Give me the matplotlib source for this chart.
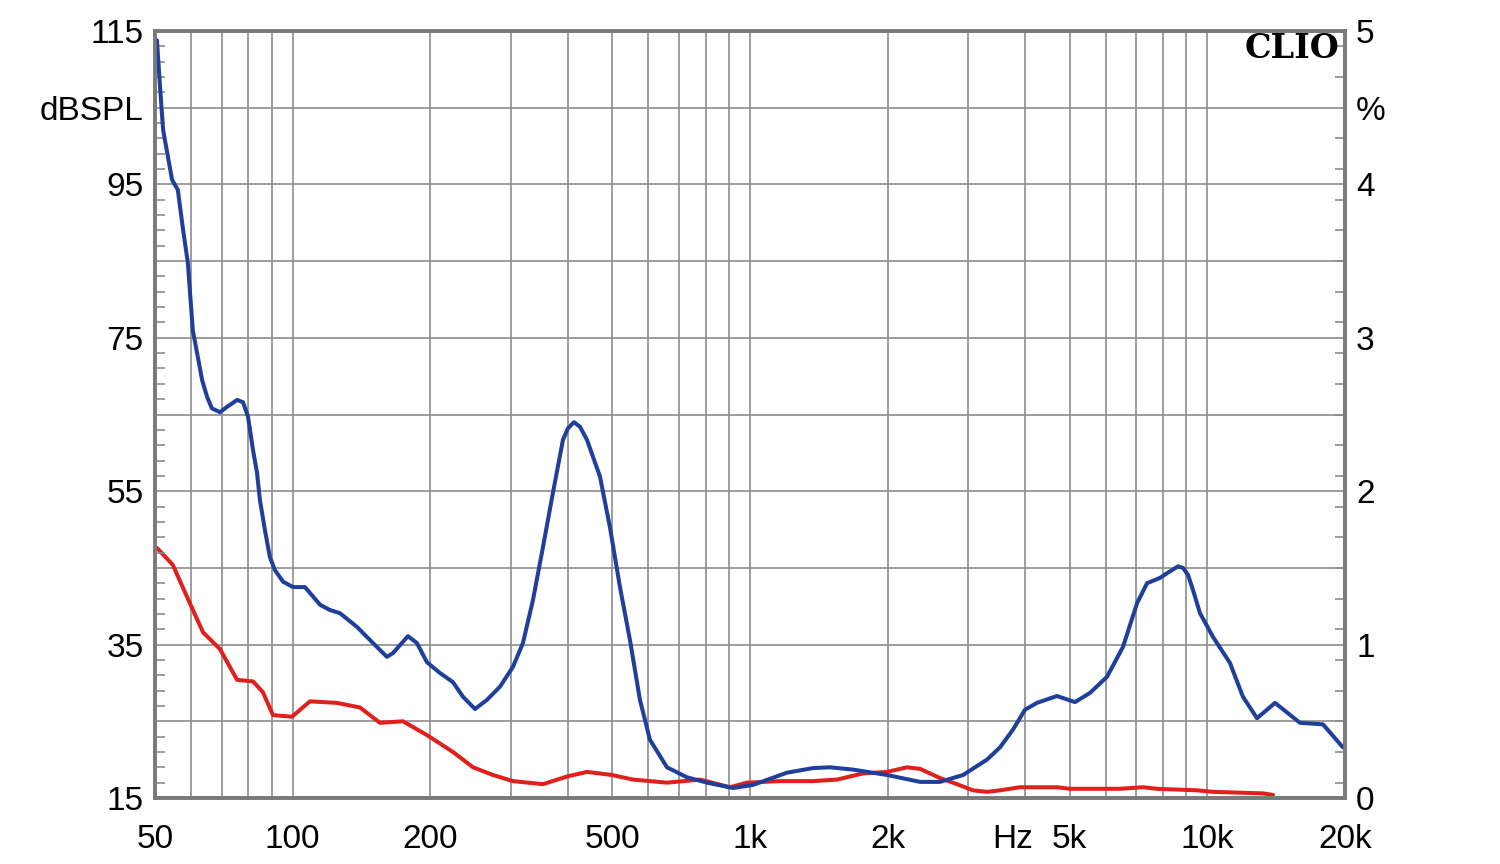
import numpy as np
import matplotlib
matplotlib.use("Agg")
import matplotlib.pyplot as plt
from matplotlib.ticker import FixedLocator, NullFormatter, FixedFormatter

# ---- data ----
spl_freq = [50.5, 51.3, 52.1, 54.5, 56.1, 57.6, 59.0, 60.5, 63.4, 65.0, 66.6, 69.4, 71.9,
            75.6, 77.9, 79.9, 81.9, 83.6, 84.8, 87.0, 89.2, 91.5, 95.3, 100.2, 106.4,
            114.8, 120.7, 126.9, 138.3, 149.9, 160.8, 165.8,
            178.7, 187.0, 196.7, 210.0, 224.2, 235.8, 250.5, 266.1, 284.0, 303.3, 318.9,
            335.4, 352.7, 370.9, 390.1, 400.0, 412.3, 425.0, 440.2, 453.7, 470.0, 494.2,
            519.8, 546.6, 574.8, 604.4, 658.6, 728.4, 805.5, 918.0, 1015, 1205, 1374, 1496,
            1680, 1994, 2355, 2604, 2925, 3299, 3522, 3759, 3993, 4242, 4693, 5138, 5541,
            6037, 6543, 7023, 7386, 7884, 8166, 8630, 8851, 9076, 9310, 9641, 10294, 11214,
            11969, 12849, 14065, 15954, 17912, 19804]
spl_db = [113.8, 107.7, 102.1, 95.6, 94.3, 89.1, 84.8, 76.0, 69.5, 67.3, 65.8, 65.3, 66.0,
          66.9, 66.6, 64.7, 60.4, 57.4, 53.9, 49.9, 46.4, 44.7, 43.2, 42.5, 42.5,
          40.2, 39.5, 39.1, 37.3, 35.2, 33.4, 33.9,
          36.1, 35.2, 32.7, 31.3, 30.1, 28.2, 26.6, 27.8, 29.5, 32.1, 35.2,
          40.8, 47.7, 54.8, 61.7, 63.2, 64.0, 63.4, 61.7, 59.5, 56.9, 50.3,
          42.5, 35.6, 27.8, 22.6, 19.0, 17.7, 17.0, 16.3, 16.7, 18.3, 18.9, 19.0,
          18.7, 18.0, 17.1, 17.1, 18.0, 20.0, 21.6, 23.9, 26.5, 27.4, 28.3, 27.5, 28.7,
          30.8, 34.7, 40.4, 43.0, 43.7, 44.3, 45.2, 45.0, 44.1, 42.1, 39.1, 36.0, 32.6,
          28.2, 25.4, 27.4, 24.8, 24.6, 21.6]

thd_freq = [50.5, 54.7, 59.6, 63.7, 69.4, 75.6, 81.9, 86.1, 90.6, 99.7, 109.1, 125.0, 140.4,
            155.2, 174.3, 196.7, 224.2, 248.0, 274.2, 303.3, 352.7, 398.0, 440.2, 499.2,
            554.9, 658.6, 777.6, 904.3, 985.4, 1163, 1374, 1550, 1767, 1994, 2205, 2355,
            2604, 2837, 3074, 3299, 3522, 3894, 4693, 5010, 6446, 7238, 7765, 9496, 10294,
            13243, 13923]
thd_pct = [1.63, 1.52, 1.27, 1.08, 0.97, 0.77, 0.76, 0.69, 0.54, 0.53, 0.63, 0.62, 0.59,
           0.49, 0.50, 0.41, 0.30, 0.20, 0.15, 0.11, 0.09, 0.14, 0.17, 0.15,
           0.12, 0.10, 0.12, 0.07, 0.10, 0.11, 0.11, 0.12, 0.16, 0.17, 0.20, 0.19,
           0.13, 0.09, 0.05, 0.04, 0.05, 0.07, 0.07, 0.06, 0.06, 0.07, 0.06, 0.05, 0.04,
           0.03, 0.02]

x_grid = [50, 60, 70, 80, 90, 100, 200, 300, 400, 500, 600, 700, 800, 900,
          1000, 2000, 3000, 4000, 5000, 6000, 7000, 8000, 9000, 10000, 20000]
x_label_pos = [50, 100, 200, 500, 1000, 2000, 5000, 10000, 20000]
x_labels = ["50", "100", "200", "500", "1k", "2k", "5k", "10k", "20k"]
y_major = list(range(15, 116, 10))
y_labels = ["15", "", "35", "", "55", "", "75", "", "95", "dBSPL", "115"]
y2_ticks = [0, 1, 2, 3, 4, 4.5, 5]
y2_labels = ["0", "1", "2", "3", "4", "%", "5"]

# ---- figure ----
plt.rcParams['font.family'] = ['Liberation Sans', 'DejaVu Sans']
fig = plt.figure(figsize=(15, 8.64), dpi=100)
ax = fig.add_axes([0.1033, 0.0764, 0.7933, 0.8877])
ax.set_xscale("log")
ax.set_xlim(50, 20000)
ax.set_ylim(15, 115)
ax2 = ax.twinx()
ax2.set_ylim(0, 5)

grid_c = "#8c8c8c"
spine_c = "#7a7a7a"
FS = 24

# grid drawn on lower (twin) axes, curves on top
ax2.set_zorder(1)
ax.set_zorder(2)
ax.patch.set_visible(False)
ax2.patch.set_visible(True)
ax2.patch.set_facecolor("white")

for xv in x_grid:
    ax2.axvline(xv, color=grid_c, lw=1.2, zorder=0)
for yv in np.arange(0, 5.01, 0.5):
    ax2.axhline(yv, color=grid_c, lw=1.2, zorder=0)

ax2.plot(thd_freq, thd_pct, color="#e0201c", lw=2.9, solid_joinstyle="round",
         solid_capstyle="round")
ax.plot(spl_freq, spl_db, color="#1f3f9a", lw=2.9, solid_joinstyle="round",
        solid_capstyle="round")

# x ticks
ax.xaxis.set_major_locator(FixedLocator(x_label_pos))
ax.xaxis.set_major_formatter(FixedFormatter(x_labels))
ax.xaxis.set_minor_locator(FixedLocator([]))
ax.xaxis.set_minor_formatter(NullFormatter())
ax.tick_params(axis="x", which="both", length=0, labelsize=FS, pad=19, colors="black")

# left y ticks
ax.yaxis.set_major_locator(FixedLocator(y_major))
ax.yaxis.set_major_formatter(FixedFormatter(y_labels))
ax.yaxis.set_minor_locator(FixedLocator(list(range(17, 115, 2))))
ax.tick_params(axis="y", which="major", length=0, labelsize=FS, pad=8,
               left=True, right=False)
ax.tick_params(axis="y", which="minor", direction="in", length=7, width=1.2,
               color=grid_c, left=True, right=False)

# right y ticks
ax2.yaxis.set_major_locator(FixedLocator(y2_ticks))
ax2.yaxis.set_major_formatter(FixedFormatter(y2_labels))
ax2.yaxis.set_minor_locator(FixedLocator(list(np.arange(0.1, 5.0, 0.2))))
ax2.tick_params(axis="y", which="major", length=0, labelsize=FS, pad=8,
                right=True, left=False)
ax2.tick_params(axis="y", which="minor", direction="in", length=7, width=1.2,
                color=grid_c, right=True, left=False)

for a in (ax, ax2):
    for s in a.spines.values():
        s.set_color(spine_c)
        s.set_linewidth(2.6)

# Hz label and CLIO
ax.text(3750, -0.0335, "Hz", transform=ax.get_xaxis_transform(), ha="center",
        va="top", fontsize=FS)
ax.text(0.995, 0.977, "CLIO", transform=ax.transAxes, ha="right", va="center",
        fontsize=24, fontweight="bold", family="DejaVu Serif")

fig.savefig("out.png", dpi=100, facecolor="white")
